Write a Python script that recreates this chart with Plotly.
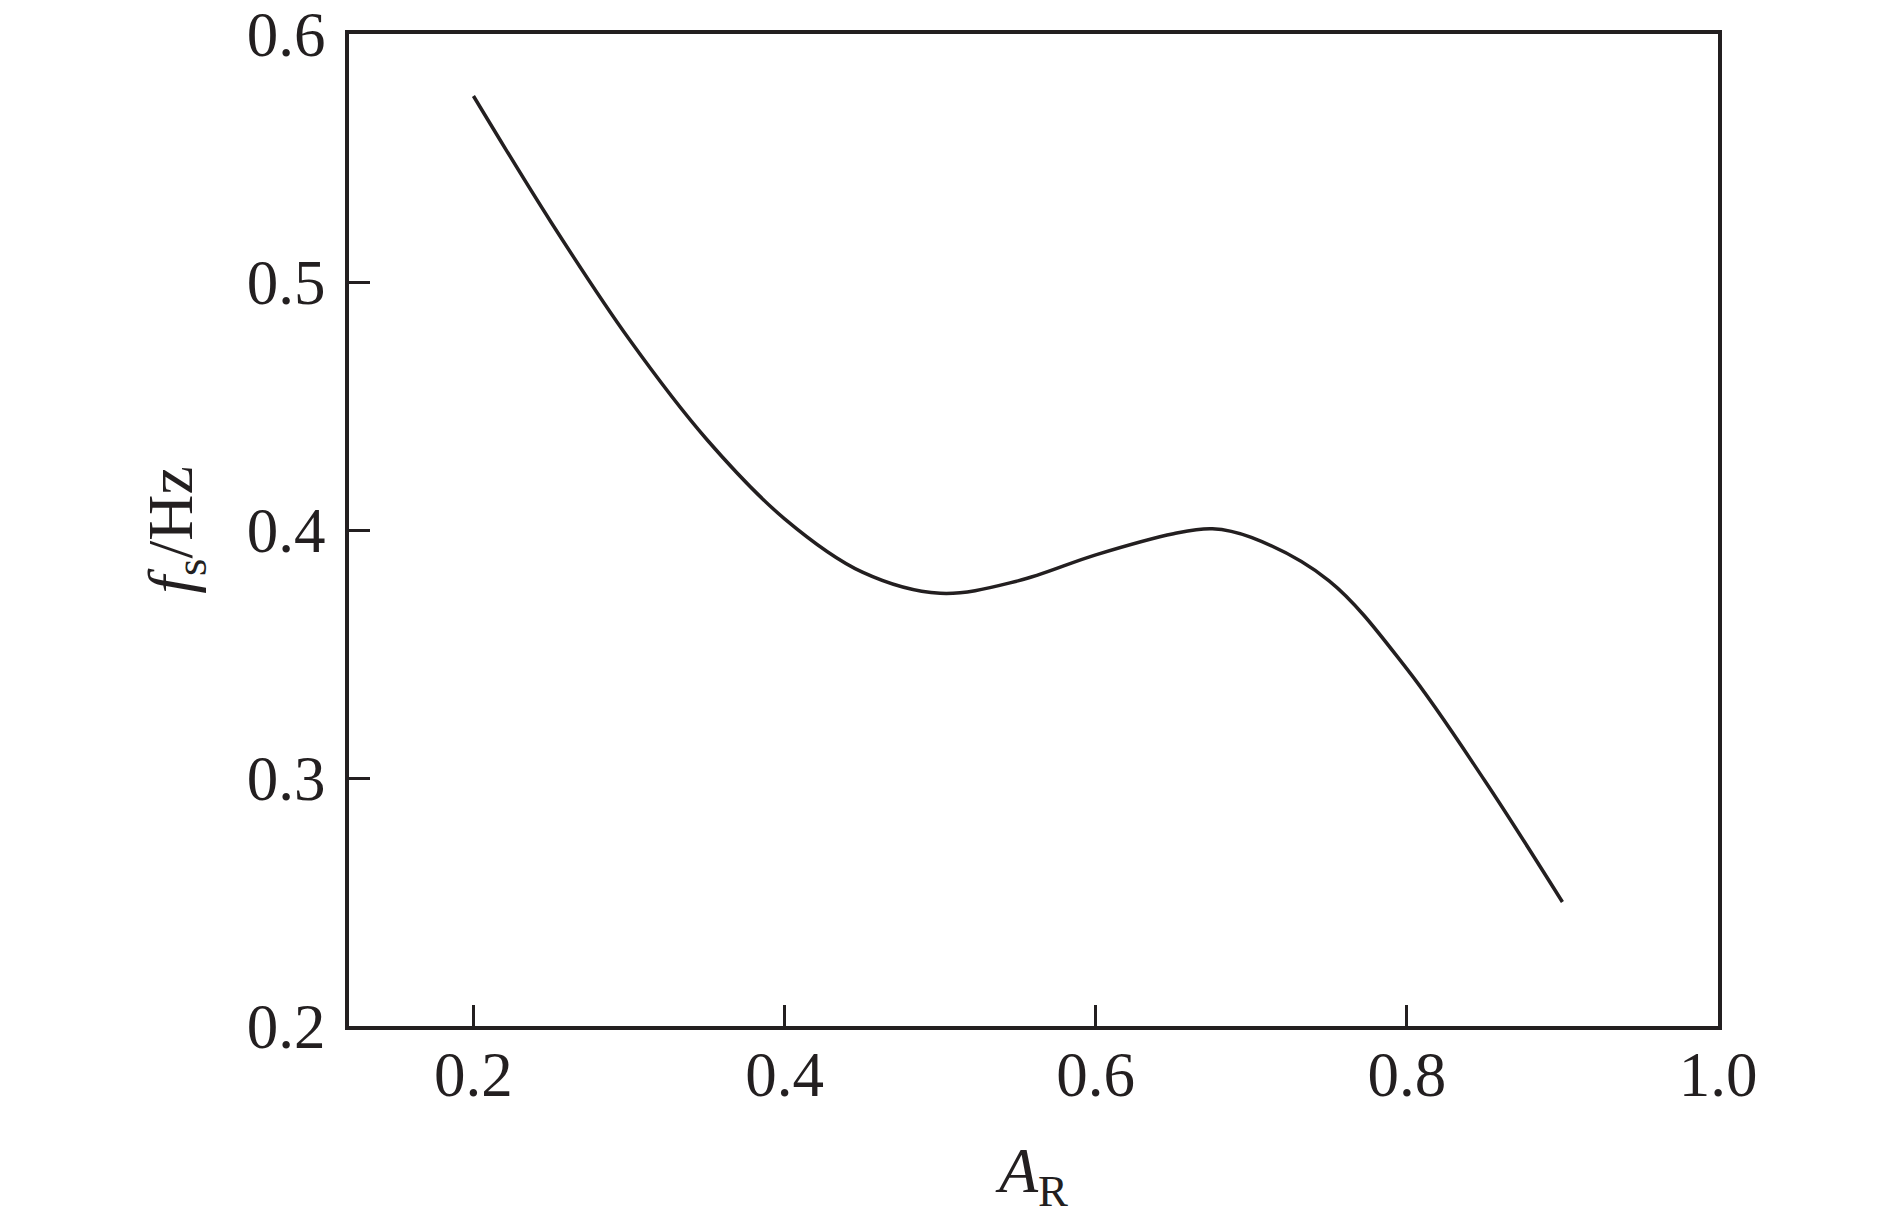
import plotly.graph_objects as go

# Data
A_R = [0.20, 0.25, 0.30, 0.35, 0.40, 0.45, 0.50, 0.55, 0.60, 0.65, 0.675, 0.70, 0.75, 0.80, 0.85, 0.90]
f_s = [0.575, 0.524, 0.477, 0.4365, 0.4045, 0.383, 0.3745, 0.3795, 0.390, 0.3985, 0.4005, 0.397, 0.3795, 0.344, 0.299, 0.250]

x_ticks = [0.2, 0.4, 0.6, 0.8, 1.0]
x_tick_labels = ["0.2", "0.4", "0.6", "0.8", "1.0"]
y_ticks = [0.2, 0.3, 0.4, 0.5, 0.6]
y_tick_labels = ["0.2", "0.3", "0.4", "0.5", "0.6"]

INK = "#231f20"
FONT = "Liberation Serif, Times New Roman, serif"

fig = go.Figure()
fig.add_trace(go.Scatter(
    x=A_R, y=f_s, mode="lines",
    line=dict(color=INK, width=3.5, shape="spline", smoothing=1.0),
    showlegend=False, hoverinfo="skip",
))

axis_common = dict(
    showline=True, linewidth=4, linecolor=INK, mirror=True,
    ticks="inside", ticklen=21, tickwidth=3, tickcolor=INK,
    showgrid=False, zeroline=False,
    tickfont=dict(family=FONT, size=63, color=INK),
    ticklabeloverflow="allow",
)

fig.update_layout(
    width=1890, height=1226,
    margin=dict(l=341, r=180, t=26, b=208, autoexpand=False),
    paper_bgcolor="white", plot_bgcolor="white",
    font=dict(family=FONT, color=INK),
    xaxis=dict(
        range=[0.12, 1.0], tickvals=x_ticks, ticktext=x_tick_labels,
        title=dict(text="<i>A</i><sub>R</sub>", font=dict(family=FONT, size=64, color=INK), standoff=40),
        ticklabelstandoff=-10,
        **axis_common,
    ),
    yaxis=dict(
        range=[0.2, 0.6], tickvals=y_ticks, ticktext=y_tick_labels,
        title=dict(text="<i>f</i><sub>s</sub>/Hz", font=dict(family=FONT, size=64, color=INK), standoff=34),
        ticklabelstandoff=7,
        **axis_common,
    ),
)

fig.write_html("out.html")
